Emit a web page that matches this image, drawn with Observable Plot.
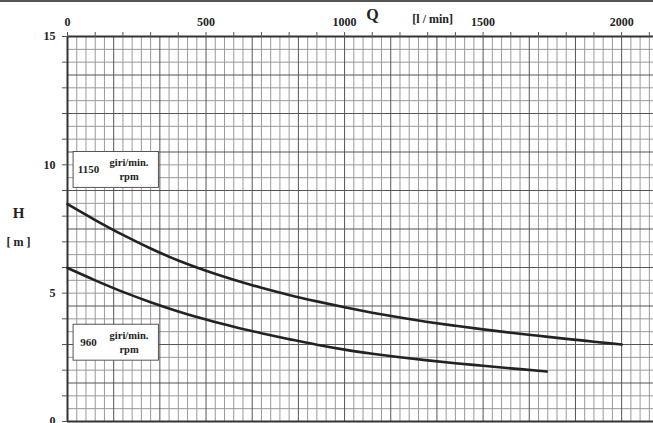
<!DOCTYPE html>
<html>
<head>
<meta charset="utf-8">
<script src="https://cdn.jsdelivr.net/npm/d3@7"></script>
<script src="https://cdn.jsdelivr.net/npm/@observablehq/plot@0.6"></script>
<style>
  html, body { margin: 0; padding: 0; background: #fff; }
  #wrap { position: relative; width: 653px; height: 423px; overflow: hidden; }
  #topband { position: absolute; left: 0; top: 0; width: 653px; height: 2px; background: #555; }
  svg, svg text { font-family: "Liberation Serif", "Times New Roman", Times, "DejaVu Serif", serif !important; font-weight: bold; }
</style>
</head>
<body>
<div id="wrap"><div id="topband"></div></div>
<script>
// Flow Q [l/min]
const q1150 = [0,100,200,300,400,500,600,700,800,900,1000,1100,1200,1300,1400,1500,1600,1700,1800,1900,2000];
// Head H [m] at 1150 rpm
const h1150 = [8.47,7.85,7.27,6.74,6.27,5.87,5.52,5.21,4.93,4.68,4.45,4.24,4.05,3.88,3.73,3.59,3.46,3.34,3.22,3.11,3.00];
const q960 = [0,100,200,300,400,500,600,700,800,900,1000,1100,1200,1300,1400,1500,1600,1700,1730];
// Head H [m] at 960 rpm
const h960 = [5.98,5.50,5.05,4.65,4.29,3.97,3.69,3.44,3.21,2.99,2.80,2.64,2.50,2.38,2.27,2.17,2.07,1.98,1.95];

const speeds = ["1150", "960"];
const xTickLabels = [0, 500, 1000, 1500, 2000];
const yTickLabels = [0, 5, 10, 15];

const curves = [
  ...q1150.map((q, i) => ({speed: speeds[0], Q: q, H: h1150[i]})),
  ...q960.map((q, i) => ({speed: speeds[1], Q: q, H: h960[i]}))
];

const xMax = 2115;
const vGrid = d3.range(0, 64).map(i => ({v: i * 100 / 3, major: i % 5 === 0}));
const hGrid = d3.range(0, 31).map(i => ({v: i * 0.5, major: i % 3 === 0}));

const boxes = [
  {speed: speeds[0], cy: 9.8},
  {speed: speeds[1], cy: 3.07}
];

const serif = "Liberation Serif, Times New Roman, serif";

const chart = Plot.plot({
  width: 653,
  height: 423,
  marginLeft: 67,
  marginRight: 0,
  marginTop: 36,
  marginBottom: 2,
  style: {fontFamily: serif, fontSize: "12px", fontWeight: "bold", color: "#222", background: "transparent", overflow: "visible"},
  x: {domain: [0, xMax]},
  y: {domain: [0, 15]},
  marks: [
    Plot.ruleX(vGrid.filter(d => !d.major), {x: "v", stroke: "#9a9a9a", strokeWidth: 1}),
    Plot.ruleY(hGrid.filter(d => !d.major), {y: "v", stroke: "#9a9a9a", strokeWidth: 1}),
    Plot.ruleX(vGrid.filter(d => d.major), {x: "v", stroke: "#555", strokeWidth: 1}),
    Plot.ruleY(hGrid.filter(d => d.major), {y: "v", stroke: "#555", strokeWidth: 1}),
    Plot.ruleY([15], {stroke: "#333", strokeWidth: 2}),
    Plot.ruleX([0], {stroke: "#333", strokeWidth: 2}),
    Plot.ruleY([0], {stroke: "#333", strokeWidth: 2}),
    Plot.axisX({anchor: "top", ticks: d3.range(0, 2101, 100), tickFormat: () => "", tickSize: 5, stroke: "#555"}),
    Plot.axisX({anchor: "top", ticks: xTickLabels, tickFormat: d3.format("d"), tickSize: 0, tickPadding: 11, label: null, fontSize: 12, fontWeight: "bold"}),
    Plot.axisY({anchor: "left", ticks: d3.range(0, 16, 1), tickFormat: () => "", tickSize: 5, stroke: "#555"}),
    Plot.axisY({anchor: "left", ticks: yTickLabels, tickFormat: d3.format("d"), tickSize: 0, tickPadding: 12, label: null, fontSize: 12, fontWeight: "bold"}),
    Plot.line(curves, {x: "Q", y: "H", z: "speed", curve: "monotone-x", stroke: "#222", strokeWidth: 2.6}),
    Plot.rect(boxes, {x1: 22, x2: 330, y1: d => d.cy - 0.7, y2: d => d.cy + 0.7, fill: "white", stroke: "#555", strokeWidth: 1}),
    Plot.text(boxes, {x: 76, y: "cy", text: "speed", textAnchor: "middle", fontSize: 11, fontWeight: "bold", fill: "#222"}),
    Plot.text(boxes, {x: 222, y: d => d.cy + 0.27, text: () => "giri/min.", textAnchor: "middle", fontSize: 10.5, fontWeight: "bold", fill: "#222"}),
    Plot.text(boxes, {x: 222, y: d => d.cy - 0.27, text: () => "rpm", textAnchor: "middle", fontSize: 10.5, fontWeight: "bold", fill: "#222"}),
    Plot.text(["Q"], {x: 1101, y: 15, dy: -17, lineAnchor: "bottom", textAnchor: "middle", text: d => d, fontSize: 16, fontWeight: "bold", fill: "#222"}),
    Plot.text(["[l / min]"], {x: 1318, y: 15, dy: -14, lineAnchor: "bottom", textAnchor: "middle", text: d => d, fontSize: 12, fontWeight: "bold", fill: "#222"}),
    Plot.text(["H"], {x: 0, y: 8.1, dx: -49, text: d => d, fontSize: 15, fontWeight: "bold", fill: "#222"}),
    Plot.text(["[ m ]"], {x: 0, y: 7.0, dx: -49, text: d => d, fontSize: 12, fontWeight: "bold", fill: "#222"})
  ]
});

document.getElementById("wrap").insertBefore(chart, document.getElementById("topband"));
</script>
</body>
</html>
